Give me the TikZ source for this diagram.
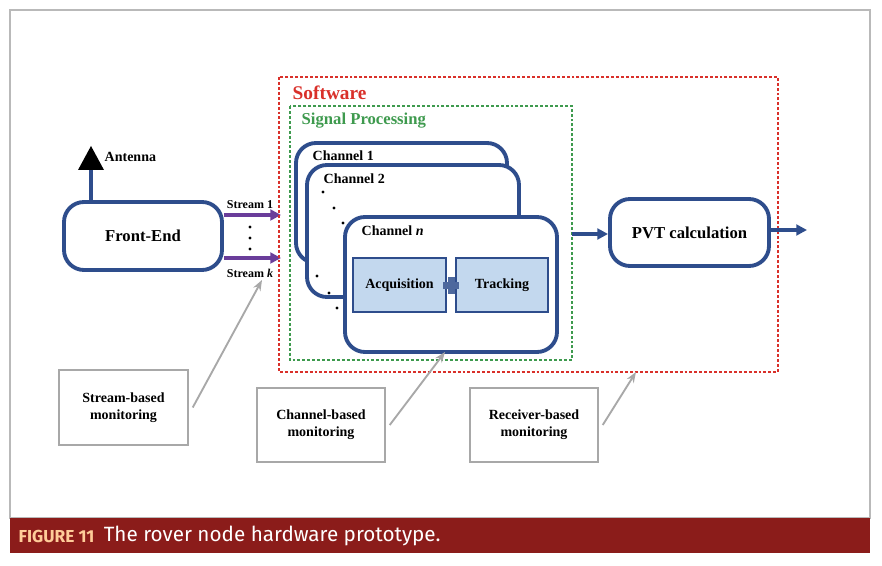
\documentclass[tikz,border=0pt]{standalone}
\usepackage{fontspec}
\setmainfont{Liberation Serif}
\newfontfamily\capfont{Fira Sans}
\usetikzlibrary{arrows.meta}
\definecolor{bl}{HTML}{2E4D8C}
\definecolor{pu}{HTML}{6A3D9A}
\definecolor{sred}{HTML}{D9302A}
\definecolor{sgr}{HTML}{3E9A4E}
\definecolor{capred}{HTML}{8B1C1A}
\definecolor{lb}{HTML}{C3D8EE}
\definecolor{gr}{HTML}{A8A8A8}
\begin{document}
\begin{tikzpicture}[x=0.75pt,y=-0.75pt,
  rb/.style={draw=bl,line width=2.9pt,rounded corners=15pt,fill=white},
  mon/.style={draw=gr,line width=1.1pt,fill=white},
  lab/.style={font=\bfseries\fontsize{10.5}{13}\selectfont,align=center},
  ga/.style={gr,line width=1.4pt,-{Stealth[length=8pt]}},
  ba/.style={bl,line width=2.8pt,-{Triangle[length=8pt,width=8pt]}},
  pa/.style={pu,line width=2.8pt,-{Triangle[length=8pt,width=8pt]}},
  dsh/.style={line width=0.8pt,dash pattern=on 2.2pt off 1.5pt}]
\useasboundingbox (0,0) rectangle (882,566);
\fill[white] (0,0) rectangle (882,566);
\draw[gr!80,line width=1.3pt] (10,10) rectangle (870,518);
\fill[capred] (10,518) rectangle (870,553);
\node[anchor=west,text=orange!40,font=\capfont\bfseries\fontsize{13}{15}\selectfont] (fig) at (14,536) {FIGURE 11};
\node[anchor=west,text=white,font=\capfont\fontsize{15.5}{17}\selectfont] (cap) at (fig.east) {The rover node hardware prototype.};
% antenna
\fill[black] (91,146) -- (78,170) -- (104,170) -- cycle;
\node[anchor=west,lab] (ant) at (100,157) {Antenna};
\draw[bl,line width=2.9pt] (91,170) -- (91,202);
\node[rb,minimum width=158*0.75pt,minimum height=68*0.75pt,font=\bfseries\fontsize{12.5}{15}\selectfont] (fe) at (143,236) {Front-End};
% streams
\coordinate (s1) at (281,215);
\coordinate (sk) at (281,258);
\draw[pa] (fe.east|-s1) -- (s1);
\draw[pa] (fe.east|-sk) -- (sk);
\node[lab,font=\bfseries\fontsize{9}{10}\selectfont] (st1) at (250,205) {Stream 1};
\node[lab,font=\bfseries\fontsize{9}{10}\selectfont] (stk) at (250,273) {Stream \textit{k}};
\foreach \y in {227,238,249} \fill (250,\y) circle (1.7);
% software
\draw[sred,dsh] (279,77) rectangle (778,372);
\node[anchor=west,text=sred,font=\bfseries\fontsize{14.5}{16}\selectfont] (sw) at (288,93) {Software};
\draw[sgr,dsh] (290,106) rectangle (572,360);
\node[anchor=west,text=sgr,font=\bfseries\fontsize{12.5}{14}\selectfont] (sp) at (297,121) {Signal Processing};
% channels
\draw[rb] (296,143) rectangle (507,263);
\node[anchor=west,lab] (c1) at (308,156) {Channel 1};
\draw[rb] (307,165) rectangle (519,297);
\node[anchor=west,lab] (c2) at (319,179) {Channel 2};
\draw[rb] (345,217) rectangle (557,352);
\node[anchor=west,lab] (cn) at (357,231) {Channel \textit{n}};
\foreach \x/\y in {323/192,334/208,343/223,317/276,329/293,337/308} \fill (\x,\y) circle (1.7);
\node[draw=bl,line width=0.8pt,fill=lb,minimum width=93*0.75pt,minimum height=54*0.75pt,lab] (acq) at (399.5,285) {Acquisition};
\node[draw=bl,line width=0.8pt,fill=lb,minimum width=92*0.75pt,minimum height=54*0.75pt,lab] (trk) at (502,285) {Tracking};
\fill[bl!85] (443,282) rectangle (459,289);
\fill[bl!85] (447.5,277) rectangle (454.5,294);
% PVT
\node[rb,minimum width=159*0.75pt,minimum height=67*0.75pt,font=\bfseries\fontsize{12.5}{15}\selectfont] (pvt) at (689.5,232.5) {PVT calculation};
\coordinate (spr) at (572,234);
\draw[ba] (spr) -- (pvt.west|-spr);
\coordinate (out) at (807,230);
\draw[ba] (pvt.east|-out) -- (out);
% monitoring
\node[mon,minimum width=129*0.75pt,minimum height=75*0.75pt,lab] (m1) at (123.5,407.5) {Stream-based\\monitoring};
\node[mon,minimum width=128*0.75pt,minimum height=74*0.75pt,lab] (m2) at (321,425) {Channel-based\\monitoring};
\node[mon,minimum width=128*0.75pt,minimum height=74*0.75pt,lab] (m3) at (534,425) {Receiver-based\\monitoring};
\coordinate (t1) at (262,280);
\coordinate (t2) at (445,352);
\coordinate (t3) at (636,372);
\draw[ga] ([xshift=3pt]m1.east) -- (t1);
\draw[ga] ([xshift=3pt]m2.east) -- (t2);
\draw[ga] ([xshift=3pt]m3.east) -- (t3);
\end{tikzpicture}
\end{document}
